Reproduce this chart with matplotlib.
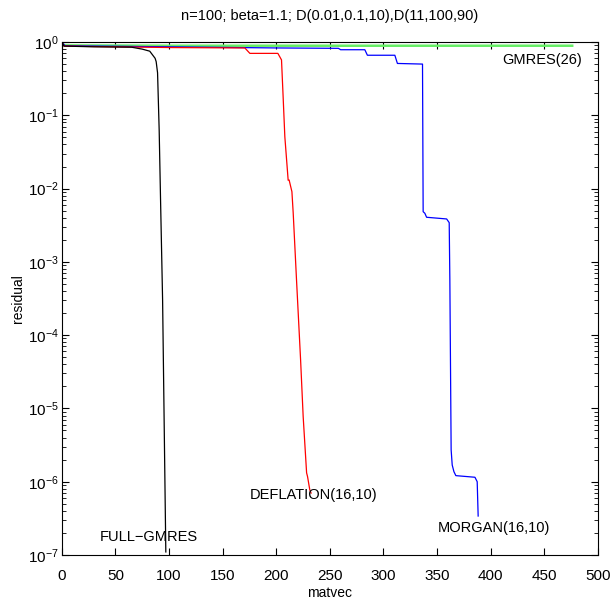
import matplotlib
matplotlib.use('Agg')
import matplotlib.pyplot as plt
from matplotlib.ticker import LogLocator, NullFormatter

plt.rcParams['font.family'] = ['Liberation Sans', 'DejaVu Sans']
plt.rcParams['mathtext.fontset'] = 'custom'
plt.rcParams['mathtext.rm'] = 'Liberation Sans'

# residual histories
full_x = [0, 2, 30, 65, 75, 82, 87, 88, 89.3, 90.8, 92.1, 94, 97]
full_y = [1.0, 0.88, 0.86, 0.85, 0.80, 0.75, 0.60, 0.54, 0.38, 0.063, 6.9e-3, 3e-4, 1.1e-7]

defl_x = [0, 2, 50, 103, 170.7, 175.4, 201.5, 204.9, 206.4, 208, 211.1, 212.0, 214.6,
          215.8, 218.9, 222.7, 225.1, 228.3, 229.2, 231.3, 232.5]
defl_y = [1.0, 0.88, 0.86, 0.84, 0.83, 0.70, 0.70, 0.57, 0.18, 0.051, 0.013, 0.0131, 9.07e-3,
          4.65e-3, 5.66e-4, 4.59e-5, 7.73e-6, 1.32e-6, 1.17e-6, 7.7e-7, 7.0e-7]

morg_x = [0, 3, 100, 200, 258, 260, 282.6, 285, 310.6, 313, 336.4, 337.0, 338.6, 340.2,
          358.9, 361.3, 361.9, 363.1, 364.1, 365.7, 367.5, 385.3, 387.4, 388.3]
morg_y = [1.0, 0.89, 0.86, 0.83, 0.82, 0.785, 0.785, 0.66, 0.66, 0.51, 0.50, 4.84e-3,
          4.6e-3, 4.06e-3, 3.85e-3, 3.43e-3, 5.66e-4, 2.72e-6, 1.69e-6, 1.37e-6, 1.21e-6,
          1.15e-6, 1.0e-6, 3.4e-7]

gmres_x = [0, 2, 100, 250, 476]
gmres_y = [1.0, 0.90, 0.89, 0.89, 0.89]

fig = plt.figure(figsize=(6.12, 6.09), dpi=100)
ax = fig.add_axes([0.101, 0.0887, 0.876, 0.8423])

ax.semilogy(gmres_x, gmres_y, color='#66ee66', lw=1.8)
ax.semilogy(morg_x, morg_y, color='blue', lw=0.9)
ax.semilogy(defl_x, defl_y, color='red', lw=0.9)
ax.semilogy(full_x, full_y, color='black', lw=0.9)

ax.set_xlim(0, 500)
ax.set_ylim(1e-7, 1)
ax.set_xticks(range(0, 501, 50))
ax.yaxis.set_major_locator(LogLocator(base=10, numticks=10))
ax.yaxis.set_minor_locator(LogLocator(base=10, subs=range(2, 10), numticks=10))
ax.yaxis.set_minor_formatter(NullFormatter())
ax.tick_params(which='both', direction='in', top=True, right=True)
ax.tick_params(which='major', length=5)
ax.tick_params(which='minor', length=3)
ax.tick_params(axis='x', labelsize=11, pad=10)
ax.tick_params(axis='y', labelsize=11, pad=2)
ax.xaxis.get_offset_text().set_visible(False)
ax.yaxis.get_offset_text().set_visible(False)

ax.set_title('n=100; beta=1.1; D(0.01,0.1,10),D(11,100,90)', fontsize=10.5, pad=16)
ax.set_xlabel('matvec', fontsize=10, labelpad=2)
ax.set_ylabel('residual', fontsize=10, labelpad=2)

ax.text(411, 10**-0.245, 'GMRES(26)', fontsize=10.5, va='center')
ax.text(35, 10**-6.75, 'FULL\u2212GMRES', fontsize=10.5, va='center')
ax.text(175, 10**-6.18, 'DEFLATION(16,10)', fontsize=10.5, va='center')
ax.text(351, 10**-6.63, 'MORGAN(16,10)', fontsize=10.5, va='center')

fig.savefig('out.png', dpi=100)
